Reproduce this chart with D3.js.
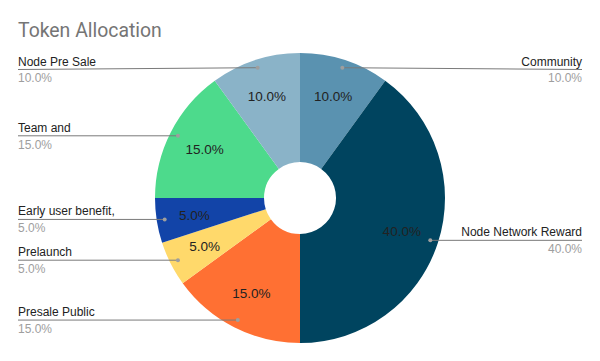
<!DOCTYPE html>
<html><head><meta charset="utf-8">
<script src="https://cdn.jsdelivr.net/npm/d3@7"></script>
<style>body{margin:0;background:#fff}svg{display:block}</style>
</head><body>
<svg id="c" width="600" height="361"></svg>
<script>
const title = "Token Allocation";
const categories = ["Community","Node Network Reward","Presale Public","Prelaunch","Early user benefit,","Team and","Node Pre Sale"];
const values = [10,40,15,5,5,15,10];
const colors = ["#5a92b0","#00445f","#ff7033","#ffd96b","#1244a8","#4dda8c","#8ab3c8"];

const svg = d3.select("#c");
const W=600,H=361, cx=300, cy=198, R=145, r0=36;
svg.append("rect").attr("width",W).attr("height",H).attr("fill","#fff");
svg.append("text").attr("x",18).attr("y",37).text(title)
  .attr("font-family","Roboto, Arial, sans-serif").attr("font-size",19.4).attr("fill","#757575");

const total = d3.sum(values);
const pie = d3.pie().sort(null).value(d=>d)(values);
const g = svg.append("g").attr("transform",`translate(${cx},${cy})`);
const arc = d3.arc().innerRadius(r0).outerRadius(R);
g.selectAll("path").data(pie).join("path").attr("d",arc).attr("fill",(d,i)=>colors[i]);

const labArc = d3.arc().innerRadius(107).outerRadius(107);
const fmt = d3.format(".1%");
g.selectAll("text.in").data(pie).join("text").attr("class","in")
  .attr("transform",d=>`translate(${labArc.centroid(d)})`)
  .attr("text-anchor","middle").attr("dy","0.36em")
  .attr("font-family","Arial, 'Liberation Sans', sans-serif").attr("font-size",13.5).attr("fill","#222")
  .text(d=>fmt(d.value/total));

const dotArc = d3.arc().innerRadius(137).outerRadius(137);
pie.forEach((d,i)=>{
  const [dx,dy] = dotArc.centroid(d);
  const px = cx+dx, py = cy+dy;
  const right = px > cx;
  const ly = Math.max(py, 69.5);
  const lx = right ? 582 : 18;
  svg.append("path").attr("d",`M${lx},${ly}L${px},${py}`)
    .attr("stroke","#7a7a7a").attr("stroke-width",1).attr("fill","none");
  svg.append("circle").attr("cx",px).attr("cy",py).attr("r",2).attr("fill","#9e9e9e");
  const anchor = right ? "end" : "start";
  svg.append("text").attr("x",lx).attr("y",ly-4).attr("text-anchor",anchor)
    .attr("font-family","Arial, 'Liberation Sans', sans-serif").attr("font-size",12).attr("fill","#222")
    .text(categories[i]);
  svg.append("text").attr("x",lx).attr("y",ly+12.7).attr("text-anchor",anchor)
    .attr("font-family","Arial, 'Liberation Sans', sans-serif").attr("font-size",12).attr("fill","#9e9e9e")
    .text(fmt(d.value/total));
});
</script>
</body></html>
